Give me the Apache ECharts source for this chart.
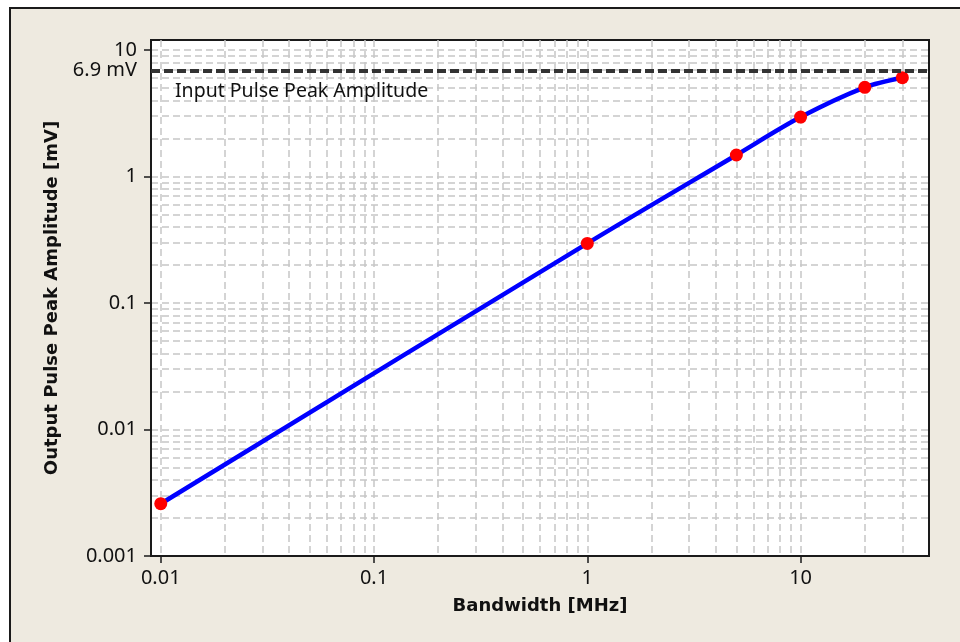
<!DOCTYPE html>
<html>
<head>
<meta charset="utf-8">
<script src="https://cdn.jsdelivr.net/npm/echarts@6/dist/echarts.min.js"></script>
<style>
  html, body { margin: 0; padding: 0; background: #fff; }
  #main { width: 960px; height: 642px; }
</style>
</head>
<body>
<div id="main"></div>
<script>
// measured points (log-log plot)
var bandwidth = [0.01, 1, 5, 10, 20, 30];          // MHz
var amplitude = [0.00259, 0.296, 1.48, 2.95, 5.07, 6.04]; // mV
var inputPeak = 6.9;                                // mV, dashed reference

var xTicks = [0.01, 0.1, 1, 10];
var yTicks = [0.001, 0.01, 0.1, 1, 10];
var xRange = [0.009, 40];
var yRange = [0.001, 12];

var lg = Math.log10;
var FONT = 'Noto Sans';
var BOLD = 'DejaVu Sans';

// minor grid at 1..9 x each decade, edges left to the frame
function gridValues(range) {
    var out = [];
    for (var e = -4; e <= 2; e++) {
        for (var m = 1; m <= 9; m++) {
            var v = m * Math.pow(10, e);
            if (v > range[0] * 1.001 && v < range[1] * 0.999) out.push(lg(v));
        }
    }
    return out;
}

function fmt(v) {
    return String(+Math.pow(10, v).toPrecision(3));
}

var chart = echarts.init(document.getElementById('main'));

var gridLine = { show: true, lineStyle: { color: '#c6c6c6', width: 1.5, type: [7, 4] } };

chart.setOption({
    animation: false,
    backgroundColor: '#eeeae0',
    textStyle: { fontFamily: FONT },
    graphic: [
        { type: 'rect', shape: { x: 0, y: 0, width: 960, height: 7 }, style: { fill: '#fff' } },
        { type: 'rect', shape: { x: 0, y: 0, width: 9, height: 642 }, style: { fill: '#fff' } },
        { type: 'rect', shape: { x: 10, y: 8, width: 980, height: 660 }, style: { fill: null, stroke: '#1a1a1a', lineWidth: 2 } }
    ],
    grid: {
        left: 151, right: 31, top: 40, bottom: 86,
        show: true, backgroundColor: '#fff', borderColor: '#1a1a1a', borderWidth: 2
    },
    xAxis: [{
        type: 'value',
        min: lg(xRange[0]), max: lg(xRange[1]),
        name: 'Bandwidth [MHz]',
        nameLocation: 'middle',
        nameGap: 41,
        nameTextStyle: { fontFamily: BOLD, fontWeight: 'bold', fontSize: 18, color: '#111' },
        axisLine: { show: true, onZero: false, lineStyle: { color: '#1a1a1a', width: 2 } },
        axisTick: { customValues: xTicks.map(lg), length: 7, lineStyle: { color: '#1a1a1a', width: 1.5 } },
        axisLabel: { customValues: xTicks.map(lg), formatter: fmt, margin: 12, fontSize: 20, color: '#111' },
        splitLine: { show: false }
    }, {
        type: 'value',
        position: 'top',
        min: lg(xRange[0]), max: lg(xRange[1]),
        axisLine: { show: false },
        axisTick: { show: false, customValues: gridValues(xRange) },
        axisLabel: { show: false },
        splitLine: gridLine
    }],
    yAxis: [{
        type: 'value',
        min: lg(yRange[0]), max: lg(yRange[1]),
        name: 'Output Pulse Peak Amplitude [mV]',
        nameLocation: 'middle',
        nameGap: 90,
        nameTextStyle: { fontFamily: BOLD, fontWeight: 'bold', fontSize: 18, color: '#111' },
        axisLine: { show: true, onZero: false, lineStyle: { color: '#1a1a1a', width: 2 } },
        axisTick: { customValues: yTicks.map(lg), length: 7, lineStyle: { color: '#1a1a1a', width: 1.5 } },
        axisLabel: { customValues: yTicks.map(lg), formatter: fmt, margin: 14, fontSize: 20, color: '#111' },
        splitLine: { show: false }
    }, {
        type: 'value',
        position: 'right',
        min: lg(yRange[0]), max: lg(yRange[1]),
        axisLine: { show: false },
        axisTick: { show: false, customValues: gridValues(yRange) },
        axisLabel: { show: false },
        splitLine: gridLine
    }],
    series: [{
        type: 'line',
        data: bandwidth.map(function (b, i) { return [lg(b), lg(amplitude[i])]; }),
        smooth: 0.3,
        symbol: 'circle',
        symbolSize: 13,
        lineStyle: { color: '#0000ff', width: 4.5 },
        itemStyle: { color: '#ff0000' },
        z: 3,
        markLine: {
            silent: true,
            symbol: ['none', 'none'],
            animation: false,
            data: [{
                yAxis: lg(inputPeak),
                lineStyle: { color: '#333', width: 4, type: [9, 4] },
                label: { show: true, position: 'start', formatter: inputPeak + ' mV', distance: 14, fontSize: 20, color: '#111', fontFamily: FONT }
            }, {
                yAxis: lg(inputPeak),
                lineStyle: { color: 'rgba(0,0,0,0)', width: 0 },
                label: { show: true, position: 'insideStartBottom', formatter: 'Input Pulse Peak Amplitude', distance: [24, 11], fontSize: 19.5, color: '#111', fontFamily: FONT }
            }]
        }
    }]
});
</script>
</body>
</html>
